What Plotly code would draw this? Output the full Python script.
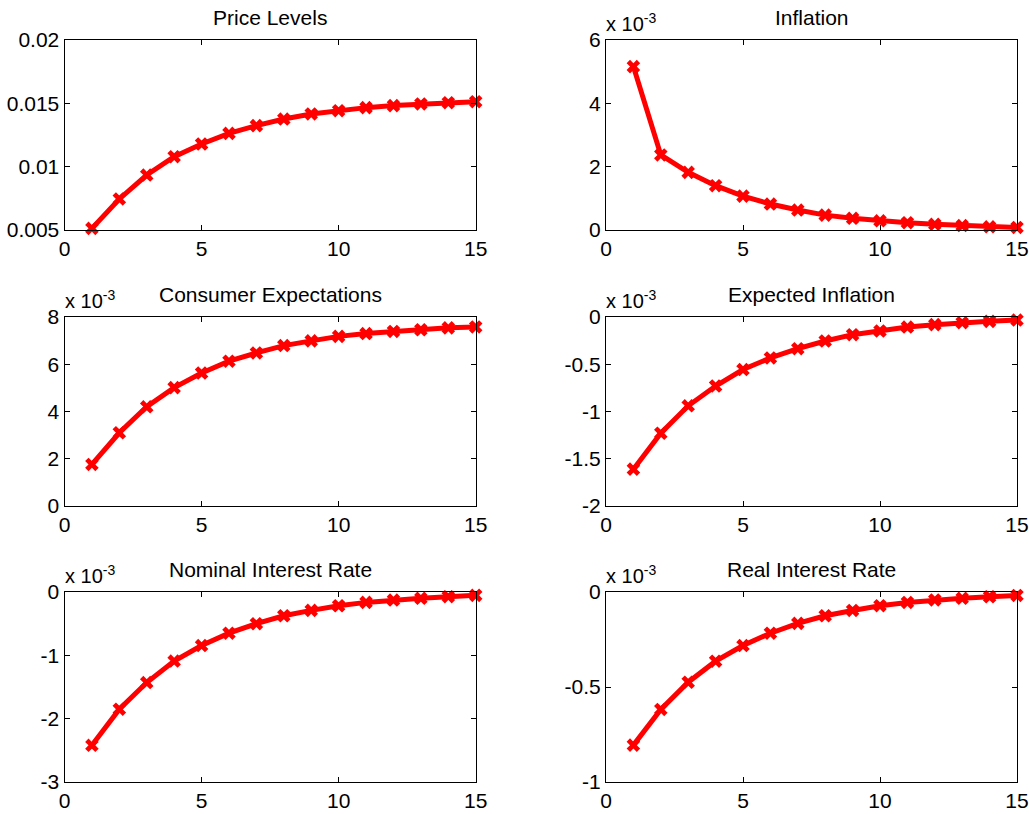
import plotly.graph_objects as go

periods = list(range(1, 16))

price_levels = [0.00513, 0.00745, 0.00934, 0.01079, 0.01179, 0.01263, 0.01324, 0.01376,
                0.01416, 0.01442, 0.01466, 0.01482, 0.01495, 0.01505, 0.01513]
inflation = [5.16e-3, 2.37e-3, 1.82e-3, 1.40e-3, 1.07e-3, 0.82e-3, 0.63e-3, 0.47e-3,
             0.37e-3, 0.29e-3, 0.23e-3, 0.18e-3, 0.14e-3, 0.10e-3, 0.08e-3]
consumer_expectations = [1.76e-3, 3.10e-3, 4.20e-3, 5.01e-3, 5.63e-3, 6.13e-3, 6.48e-3, 6.79e-3,
                         6.99e-3, 7.18e-3, 7.30e-3, 7.39e-3, 7.46e-3, 7.54e-3, 7.58e-3]
expected_inflation = [-1.61e-3, -1.23e-3, -0.94e-3, -0.73e-3, -0.556e-3, -0.433e-3, -0.335e-3,
                      -0.254e-3, -0.187e-3, -0.148e-3, -0.106e-3, -0.081e-3, -0.060e-3,
                      -0.046e-3, -0.032e-3]
nominal_rate = [-2.42e-3, -1.85e-3, -1.43e-3, -1.09e-3, -0.845e-3, -0.65e-3, -0.50e-3, -0.375e-3,
                -0.29e-3, -0.217e-3, -0.164e-3, -0.127e-3, -0.10e-3, -0.074e-3, -0.053e-3]
real_rate = [-0.806e-3, -0.618e-3, -0.475e-3, -0.364e-3, -0.282e-3, -0.217e-3, -0.165e-3,
             -0.125e-3, -0.097e-3, -0.072e-3, -0.055e-3, -0.042e-3, -0.033e-3, -0.025e-3,
             -0.018e-3]

titles = ["Price Levels", "Inflation", "Consumer Expectations", "Expected Inflation",
          "Nominal Interest Rate", "Real Interest Rate"]
series = [price_levels, inflation, consumer_expectations, expected_inflation,
          nominal_rate, real_rate]
scales = [1, 1e-3, 1e-3, 1e-3, 1e-3, 1e-3]
y_ranges = [[0.005, 0.02], [0, 6], [0, 8], [-2, 0], [-3, 0], [-1, 0]]
y_tickvals = [[0.005, 0.01, 0.015, 0.02], [0, 2, 4, 6], [0, 2, 4, 6, 8],
              [-2, -1.5, -1, -0.5, 0], [-3, -2, -1, 0], [-1, -0.5, 0]]
y_ticktext = [["0.005", "0.01", "0.015", "0.02"], ["0", "2", "4", "6"],
              ["0", "2", "4", "6", "8"], ["-2", "-1.5", "-1", "-0.5", "0"],
              ["-3", "-2", "-1", "0"], ["-1", "-0.5", "0"]]
x_ticks = [0, 5, 10, 15]

W, H = 1029, 814
x_domains = [[64.5 / W, 475.7 / W], [606 / W, 1017 / W]]
y_domains = [[1 - 230 / H, 1 - 40 / H], [1 - 506 / H, 1 - 317 / H], [1 - 782 / H, 1 - 592 / H]]

fig = go.Figure()
font_family = "Liberation Sans, Arial, sans-serif"
annotations = []

for i in range(6):
    r, c = divmod(i, 2)
    n = i + 1
    xa = "x" if n == 1 else f"x{n}"
    ya = "y" if n == 1 else f"y{n}"
    yvals = [v / scales[i] for v in series[i]]
    fig.add_trace(go.Scatter(
        x=periods, y=yvals, xaxis=xa, yaxis=ya, mode="lines+markers",
        line=dict(color="#ff0000", width=5),
        marker=dict(symbol="x", size=12, color="#ff0000"),
        showlegend=False, cliponaxis=False,
    ))
    axis_common = dict(showline=True, linecolor="black", linewidth=1, mirror="allticks",
                       ticks="inside", ticklen=5, tickcolor="black", showgrid=False,
                       zeroline=False, automargin=False,
                       tickfont=dict(family=font_family, size=21, color="black"))
    fig.layout[("xaxis" if n == 1 else f"xaxis{n}")] = dict(
        domain=x_domains[c], range=[0, 15], tickvals=x_ticks,
        ticktext=[str(t) for t in x_ticks], anchor=ya, **axis_common)
    fig.layout[("yaxis" if n == 1 else f"yaxis{n}")] = dict(
        domain=y_domains[r], range=y_ranges[i], tickvals=y_tickvals[i],
        ticktext=y_ticktext[i], anchor=xa, **axis_common)
    xmid = (x_domains[c][0] + x_domains[c][1]) / 2
    annotations.append(dict(
        text=titles[i], xref="paper", yref="paper", x=xmid, y=y_domains[r][1],
        xanchor="center", yanchor="bottom", yshift=9, showarrow=False,
        font=dict(family=font_family, size=21, color="black")))
    if scales[i] != 1:
        annotations.append(dict(
            text="x 10<sup>-3</sup>", xref="paper", yref="paper", x=x_domains[c][0],
            y=y_domains[r][1], xanchor="left", yanchor="bottom", yshift=3, xshift=-2,
            showarrow=False, font=dict(family=font_family, size=20, color="black")))

fig.update_layout(width=W, height=H, margin=dict(l=0, r=0, t=0, b=0, pad=0, autoexpand=False),
                  paper_bgcolor="white", plot_bgcolor="white", annotations=annotations,
                  showlegend=False)

post = """
document.documentElement.style.margin='0';
document.documentElement.style.overflow='hidden';
document.body.style.margin='0';
document.body.style.overflow='hidden';
"""

fig.write_html("out.html", config={"displayModeBar": False}, post_script=post)
